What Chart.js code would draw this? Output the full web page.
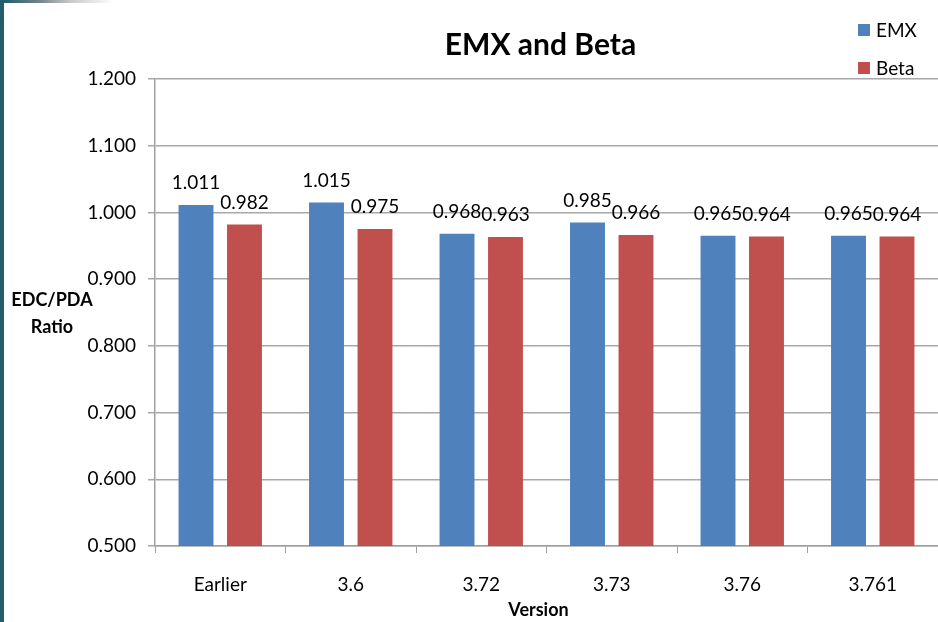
<!DOCTYPE html>
<html>
<head>
<meta charset="utf-8">
<script src="https://cdn.jsdelivr.net/npm/chart.js@4/dist/chart.umd.min.js"></script>
<style>
  html, body { margin: 0; padding: 0; background: #fff; }
  #wrap { position: relative; width: 938px; height: 622px; overflow: hidden; }
  #edge { position: absolute; left: 0; top: 0; width: 4px; height: 622px; background: #245d6a; }
  #strip { position: absolute; left: 4px; top: 0; width: 110px; height: 3px;
           background: linear-gradient(to right, #245d6a 0%, #6d7f85 30%, #c8c8c8 60%, #ffffff 100%); }
</style>
</head>
<body>
<div id="wrap">
  <canvas id="chart" width="938" height="622"></canvas>
  <div id="edge"></div>
  <div id="strip"></div>
</div>
<script>
const versions = ['Earlier', '3.6', '3.72', '3.73', '3.76', '3.761'];
const emxValues = [1.011, 1.015, 0.968, 0.985, 0.965, 0.965];
const betaValues = [0.982, 0.975, 0.963, 0.966, 0.964, 0.964];

const FONT = 'Lato, "Open Sans", sans-serif';

// value labels above each bar
const barLabels = {
  id: 'barLabels',
  afterDatasetsDraw(chart) {
    const ctx = chart.ctx;
    ctx.save();
    ctx.font = '19px ' + FONT;
    ctx.fillStyle = '#000';
    ctx.textAlign = 'center';
    ctx.textBaseline = 'middle';
    chart.data.datasets.forEach((ds, i) => {
      chart.getDatasetMeta(i).data.forEach((bar, j) => {
        ctx.fillText(ds.data[j].toFixed(3), bar.x, bar.y - 22);
      });
    });
    ctx.restore();
  }
};

// title, axis titles and legend, placed like the original
const extras = {
  id: 'extras',
  afterDraw(chart) {
    const ctx = chart.ctx;
    const area = chart.chartArea;
    ctx.save();
    ctx.fillStyle = '#000';
    ctx.textAlign = 'center';
    ctx.textBaseline = 'middle';
    ctx.font = 'bold 30px ' + FONT;
    ctx.fillText('EMX and Beta', (area.left + area.right) / 2 - 6, 45);

    ctx.font = 'bold 18px ' + FONT;
    ctx.fillText('EDC/PDA', 52, 300);
    ctx.fillText('Ratio', 52, 327);
    ctx.fillText('Version', (area.left + area.right) / 2 - 8, 610);

    ctx.textAlign = 'left';
    ctx.font = '19px ' + FONT;
    chart.data.datasets.forEach((ds, i) => {
      const y = 30 + i * 38;
      ctx.fillStyle = ds.backgroundColor;
      ctx.fillRect(858, y - 6, 12, 12);
      ctx.fillStyle = '#000';
      ctx.fillText(ds.label, 876, y + 1);
    });
    ctx.restore();
  }
};

new Chart(document.getElementById('chart'), {
  type: 'bar',
  data: {
    labels: versions,
    datasets: [
      { label: 'EMX', data: emxValues, backgroundColor: '#4f81bd' },
      { label: 'Beta', data: betaValues, backgroundColor: '#c0504d' }
    ]
  },
  options: {
    responsive: false,
    animation: false,
    devicePixelRatio: 1,
    layout: { padding: { top: 79, right: 0, bottom: 0, left: 0 } },
    datasets: { bar: { categoryPercentage: 0.743, barPercentage: 0.72 } },
    scales: {
      x: {
        grid: { drawOnChartArea: false, drawTicks: true, tickLength: 7, color: '#a0a0a0', offset: true },
        border: { color: '#a0a0a0', width: 1.5 },
        ticks: { color: '#000', font: { family: FONT, size: 19 }, padding: 20 },
        afterFit(scale) { scale.height = 76; }
      },
      y: {
        min: 0.5,
        max: 1.2,
        grid: { color: '#a8a8a8', lineWidth: 1.5, tickLength: 7 },
        border: { color: '#a0a0a0', width: 1.5 },
        ticks: {
          stepSize: 0.1,
          color: '#000',
          font: { family: FONT, size: 19 },
          padding: 12,
          callback: v => v.toFixed(3)
        },
        afterFit(scale) { scale.width = 155; }
      }
    },
    plugins: {
      legend: { display: false },
      title: { display: false },
      tooltip: { enabled: false }
    }
  },
  plugins: [barLabels, extras]
});
</script>
</body>
</html>
